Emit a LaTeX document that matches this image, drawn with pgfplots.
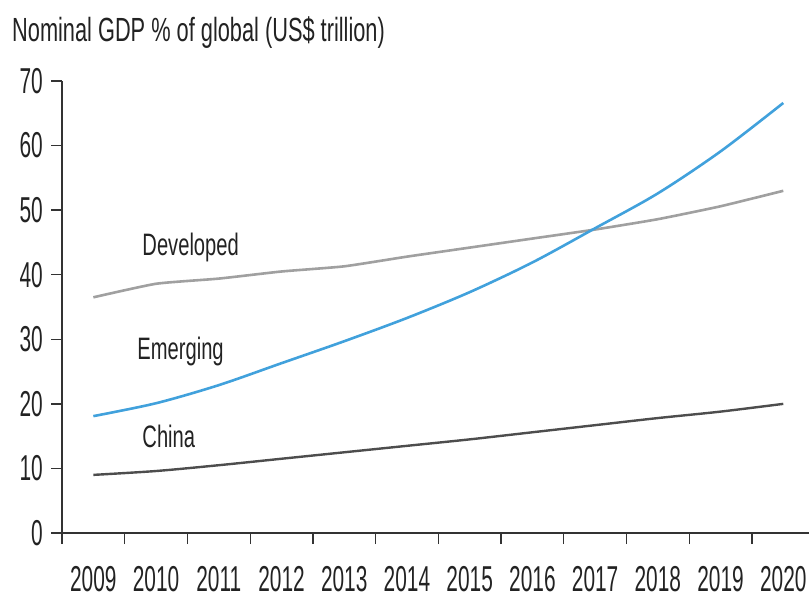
\documentclass[border=0pt]{standalone}
\usepackage{fontspec}
\setmainfont{Liberation Sans}
\newfontfamily\tickfont{Liberation Sans}[FakeStretch=0.58]
\newfontfamily\labfont{Liberation Sans}[FakeStretch=0.65]
\usepackage{pgfplots}
\pgfplotsset{compat=1.18}
\definecolor{devgray}{HTML}{A0A0A0}
\definecolor{emblue}{HTML}{41A1DC}
\definecolor{chgray}{HTML}{4D4D4D}
\definecolor{axgray}{HTML}{333333}
\definecolor{txt}{HTML}{222222}

\begin{document}
\begin{tikzpicture}
\useasboundingbox (-62pt,-70pt) rectangle (747pt,533pt);
\begin{axis}[
  at={(0pt,0pt)}, anchor=south west,
  scale only axis, width=747pt, height=452pt,
  xmin=-0.5, xmax=11.41, ymin=0, ymax=70,
  axis lines=left,
  axis line style={axgray, line width=1.5pt, -},
  xtick={-0.5,0.5,...,10.5}, xticklabels={},
  extra x ticks={0,1,2,3,4,5,6,7,8,9,10,11},
  extra x tick labels={2009,2010,2011,2012,2013,2014,2015,2016,2017,2018,2019,2020},
  extra x tick style={major tick length=0pt},
  ytick={0,10,20,30,40,50,60,70},
  /pgf/number format/assume math mode=true,
  tick align=outside, major tick length=11pt,
  tick style={axgray, line width=1.3pt},
  tick label style={font=\tickfont\fontsize{36}{36}\selectfont, text=txt, inner sep=0pt},
  xticklabel style={anchor=north, yshift=-33pt},
  yticklabel style={anchor=east, xshift=-8pt},
]
\addplot[devgray, line width=2.6pt, smooth, tension=0.3] coordinates {
 (0,36.5) (1,38.6) (2,39.4) (3,40.5) (4,41.3) (5,42.8) (6,44.2) (7,45.6) (8,47.0) (9,48.6) (10,50.6) (11,53.0)};
\addplot[emblue, line width=2.6pt, smooth] coordinates {
 (0,18.1) (1,20.1) (2,22.9) (3,26.3) (4,29.7) (5,33.3) (6,37.3) (7,41.9) (8,47.2) (9,52.6) (10,59.1) (11,66.6)};
\addplot[chgray, line width=2.4pt, smooth] coordinates {
 (0,9.0) (1,9.6) (2,10.5) (3,11.5) (4,12.5) (5,13.5) (6,14.5) (7,15.6) (8,16.7) (9,17.8) (10,18.8) (11,20.0)};
\node[anchor=base west, inner sep=0pt, font=\labfont\fontsize{31}{31}\selectfont, text=txt] at (axis cs:0.78,42.9) {Developed};
\node[anchor=base west, inner sep=0pt, font=\labfont\fontsize{31}{31}\selectfont, text=txt] at (axis cs:0.70,26.8) {Emerging};
\node[anchor=base west, inner sep=0pt, font=\labfont\fontsize{31}{31}\selectfont, text=txt] at (axis cs:0.78,13.2) {China};
\end{axis}
\node[anchor=base west, inner sep=0pt, font=\labfont\fontsize{33.5}{33.5}\selectfont, text=txt] at (-50pt,491pt) {Nominal GDP \% of global (US\$ trillion)};
\end{tikzpicture}
\end{document}
